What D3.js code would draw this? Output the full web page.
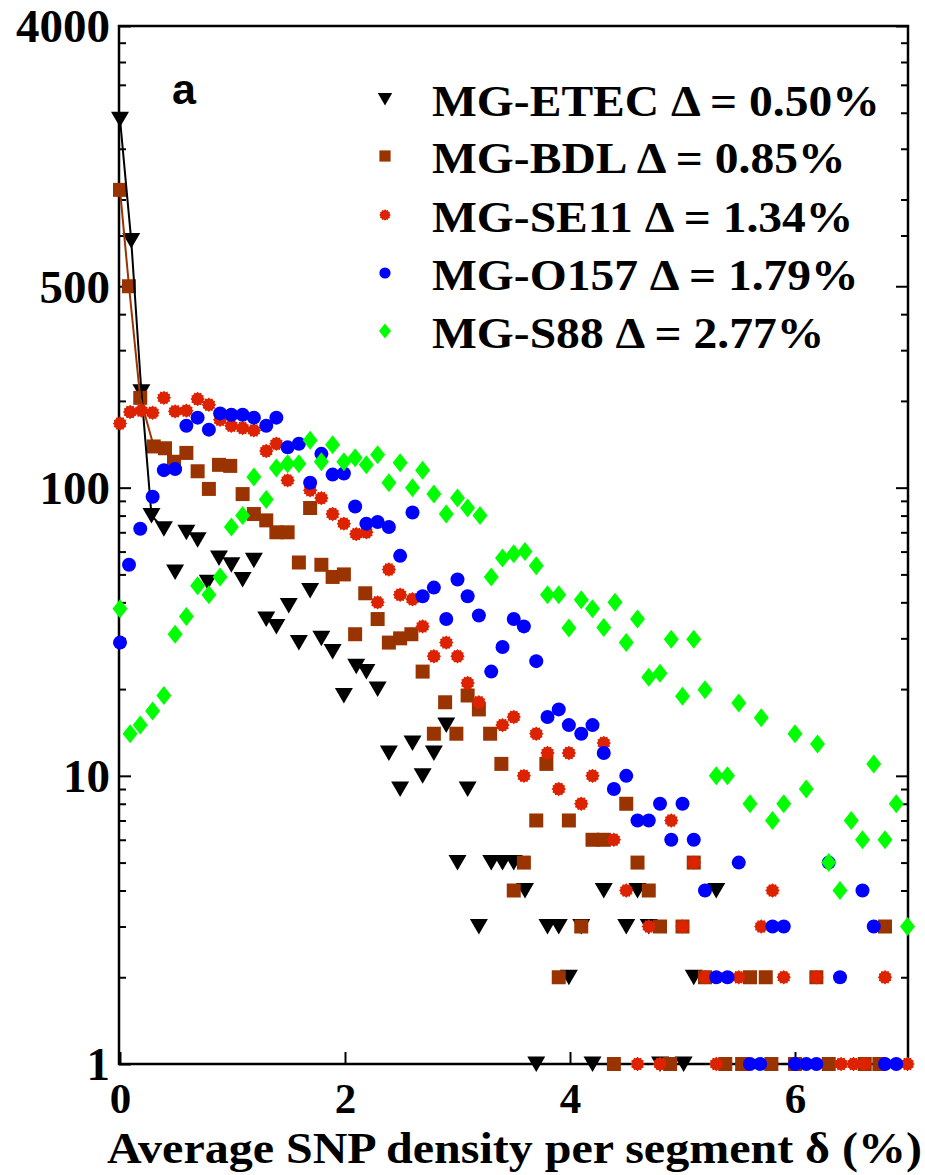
<!DOCTYPE html>
<html>
<head>
<meta charset="utf-8">
<script src="https://cdn.jsdelivr.net/npm/d3@7"></script>
<style>
  body { margin: 0; background: #fff; }
  svg { display: block; }
</style>
</head>
<body>
<svg id="chart" width="925" height="1175"></svg>
<script>
// Segment counts versus average SNP density per segment, one series per genome pair.
const etec = [[0,1900],[0.1,720],[0.19,215],[0.28,80],[0.39,72],[0.49,51],[0.59,70],[0.69,66],[0.78,47],[0.88,57],[0.99,54],[1.09,48],[1.19,56],[1.3,35],[1.39,33],[1.5,39],[1.59,29],[1.69,44],[1.79,30],[1.89,27],[1.99,19],[2.1,24],[2.19,23],[2.29,20],[2.39,12],[2.49,9],[2.6,13],[2.69,10],[2.79,12],[2.9,15],[3.0,5],[3.09,9],[3.19,3],[3.3,5],[3.4,5],[3.5,5],[3.6,4],[3.7,1],[3.8,3],[3.9,3],[3.99,2],[4.1,3],[4.2,1],[4.3,4],[4.5,3],[4.6,4],[4.7,3],[4.8,1],[5.01,1],[5.1,2],[5.3,4]];
const bdl = [[0,1080],[0.08,500],[0.18,205],[0.3,139],[0.4,137],[0.48,123],[0.59,132],[0.69,114],[0.79,99],[0.88,120],[0.98,119],[1.09,95],[1.19,81],[1.3,77],[1.39,70],[1.49,70],[1.59,55],[1.69,85],[1.79,54],[1.89,49],[1.99,50],[2.09,31],[2.18,43],[2.29,35],[2.39,29],[2.49,30],[2.59,31],[2.69,23],[2.79,14],[2.89,18],[2.99,14],[3.09,19],[3.19,17],[3.29,14],[3.39,11],[3.5,4],[3.59,5],[3.7,7],[3.79,11],[3.9,2],[3.99,7],[4.1,3],[4.2,6],[4.3,6],[4.39,1],[4.5,8],[4.6,5],[4.7,4],[4.8,3],[4.89,1],[5.0,3],[5.1,5],[5.2,2],[5.38,1],[5.53,1],[5.6,2],[5.74,2],[5.79,1],[6.0,1],[6.19,2],[6.3,1],[6.62,1],[6.75,1],[6.8,3]];
const se11 = [[0,167],[0.09,183],[0.19,185],[0.29,182],[0.39,205],[0.49,184],[0.59,185],[0.69,203],[0.79,194],[0.89,172],[0.99,164],[1.09,161],[1.19,158],[1.3,134],[1.39,142],[1.49,106],[1.69,98],[1.79,92],[1.89,81],[1.99,75],[2.1,69],[2.19,70],[2.29,40],[2.39,52],[2.49,42.5],[2.6,41],[2.69,33],[2.79,26],[2.9,29],[3.0,26],[3.09,21],[3.19,18],[3.4,15],[3.5,16],[3.59,10],[3.7,14],[3.8,12],[3.9,9],[3.99,12],[4.1,8],[4.2,10],[4.3,13],[4.39,6],[4.5,4],[4.6,1],[4.7,3],[4.8,1],[4.9,7],[5.0,3],[5.1,5],[5.2,2],[5.3,1],[5.5,2],[5.7,3],[5.8,4],[5.9,2],[6.19,2],[6.41,1],[6.52,1],[6.62,1],[6.8,2],[7.0,1]];
const o157 = [[0,29],[0.08,54],[0.18,72],[0.29,93],[0.39,115],[0.49,116],[0.59,164],[0.69,175],[0.79,159],[0.89,181],[0.99,179],[1.09,179],[1.19,175],[1.3,164],[1.39,175],[1.49,138],[1.59,142],[1.69,104],[1.79,131],[1.89,111],[1.99,112],[2.09,86],[2.19,75],[2.29,76],[2.39,73],[2.49,58],[2.6,82],[2.69,42],[2.79,45],[2.9,35],[3.0,48],[3.09,42],[3.19,36],[3.3,23],[3.4,28],[3.5,35],[3.59,33],[3.7,25],[3.8,16],[3.9,17],[3.99,15],[4.1,14],[4.2,15],[4.3,12],[4.39,9],[4.5,10],[4.6,7],[4.7,7],[4.8,8],[4.9,6],[5.0,8],[5.1,6],[5.2,4],[5.3,2],[5.4,2],[5.5,5],[5.6,1],[5.69,1],[5.8,3],[5.9,3],[6.0,1],[6.1,1],[6.19,1],[6.3,5],[6.4,2],[6.6,4],[6.7,3],[6.8,1],[6.9,1]];
const s88 = [[0,38],[0.09,14],[0.18,15],[0.29,16.8],[0.39,19],[0.49,31],[0.59,35.7],[0.69,45.7],[0.79,42.5],[0.89,49],[0.99,73],[1.09,80],[1.19,109],[1.3,91],[1.39,117],[1.49,121],[1.59,121],[1.69,146],[1.79,123],[1.89,141],[1.99,123],[2.09,127],[2.19,120],[2.29,130],[2.39,104],[2.49,122],[2.6,100],[2.69,115],[2.79,95],[2.9,81],[3.0,92],[3.09,85],[3.2,80],[3.3,49],[3.4,57],[3.5,59],[3.6,60],[3.7,53.6],[3.8,42.5],[3.9,42.5],[3.99,32.6],[4.1,40.8],[4.2,38],[4.3,32.7],[4.4,40],[4.5,29],[4.6,35],[4.7,22],[4.8,22.7],[4.9,29.8],[5.0,18.9],[5.1,29.8],[5.2,19.9],[5.3,10],[5.4,10],[5.5,17.9],[5.6,8],[5.7,15.9],[5.8,7],[5.9,8],[6.0,14],[6.1,9],[6.2,12.9],[6.3,5],[6.4,4],[6.5,7],[6.6,6],[6.7,11],[6.8,6],[6.9,8],[7.0,3]];

const seriesNames = ["MG-ETEC", "MG-BDL", "MG-SE11", "MG-O157", "MG-S88"];
const deltaLabels = ["0.50%", "0.85%", "1.34%", "1.79%", "2.77%"];
const xTickValues = [0, 2, 4, 6];
const yMajorTicks = [1, 10, 100, 500, 4000];
const yMinorTicks = [2,3,4,5,6,7,8,9,20,30,40,50,60,70,80,90,200,300,400,750,1000,1500,2000,2500,3000,3500];
const xTitle = "Average SNP density per segment \u03b4 (%)";
const panelLabel = "a";

const colors = ["#000000", "#993300", "#dd2200", "#0000ff", "#00ff00"];

// marker outlines, centred on the data point
function starPath(rOut, rIn, n) {
  const pts = [];
  for (let i = 0; i < 2 * n; i++) {
    const r = i % 2 === 0 ? rOut : rIn;
    const a = Math.PI * i / n;
    pts.push([r * Math.cos(a), r * Math.sin(a)]);
  }
  return "M" + pts.map(p => p[0].toFixed(2) + "," + p[1].toFixed(2)).join("L") + "Z";
}
const markerPaths = [
  "M-9,-7.5L9,-7.5L0,8Z",
  "M-7,-7L7,-7L7,7L-7,7Z",
  starPath(7.2, 5.9, 12),
  d3.symbol(d3.symbolCircle, Math.PI * 7 * 7)(),
  "M0,-9.5L7.5,0L0,9.5L-7.5,0Z"
];

const svg = d3.select("#chart");
const plotLeft = 119, plotRight = 908, plotTop = 26, plotBottom = 1064;

const x = d3.scaleLinear().domain([0, 7]).range([120, 907.5]);
const y = d3.scaleLog().domain([1, 4000]).range([plotBottom, plotTop]);

const serif = "'Liberation Serif', 'Times New Roman', serif";

// frame
svg.append("rect")
  .attr("x", plotLeft).attr("y", plotTop)
  .attr("width", plotRight - plotLeft).attr("height", plotBottom - plotTop)
  .attr("fill", "none").attr("stroke", "#000").attr("stroke-width", 2.5);

function styleAxis(g) {
  g.select(".domain").remove();
  g.selectAll(".tick line").attr("stroke", "#000").attr("stroke-width", 2);
  g.selectAll("text").attr("fill", "#000")
    .style("font-family", serif).style("font-weight", "bold");
}

// left axis: labelled major ticks plus inward minor ticks
svg.append("g").attr("transform", `translate(${plotLeft},0)`)
  .call(d3.axisLeft(y).tickValues(yMajorTicks).tickFormat(d3.format("d")).tickSize(-12).tickPadding(9))
  .call(styleAxis)
  .call(g => g.selectAll("text").style("font-size", "47px").attr("dy", "0.34em"));
svg.append("g").attr("transform", `translate(${plotLeft},0)`)
  .call(d3.axisLeft(y).tickValues(yMinorTicks).tickFormat("").tickSize(-7))
  .call(styleAxis);

// right axis: ticks only
svg.append("g").attr("transform", `translate(${plotRight},0)`)
  .call(d3.axisRight(y).tickValues(yMajorTicks).tickFormat("").tickSize(-12))
  .call(styleAxis);
svg.append("g").attr("transform", `translate(${plotRight},0)`)
  .call(d3.axisRight(y).tickValues(yMinorTicks).tickFormat("").tickSize(-7))
  .call(styleAxis);

// bottom axis
svg.append("g").attr("transform", `translate(0,${plotBottom})`)
  .call(d3.axisBottom(x).tickValues(xTickValues).tickFormat(d3.format("d")).tickSize(-12).tickPadding(18))
  .call(styleAxis)
  .call(g => g.selectAll("text").style("font-size", "43px"));

// axis title
svg.append("text")
  .attr("x", 107).attr("y", 1163)
  .attr("textLength", 815).attr("lengthAdjust", "spacingAndGlyphs")
  .style("font-family", serif).style("font-weight", "bold").style("font-size", "44px")
  .attr("fill", "#000")
  .text(xTitle);

// panel label
svg.append("text")
  .attr("x", 184).attr("y", 104).attr("text-anchor", "middle")
  .style("font-family", "'Liberation Sans', Arial, sans-serif").style("font-weight", "bold").style("font-size", "43px")
  .attr("fill", "#000")
  .text(panelLabel);

const allSeries = [etec, bdl, se11, o157, s88];
const plot = svg.append("g");

function drawMarkers(i) {
  plot.append("g").selectAll("path")
    .data(allSeries[i])
    .join("path")
    .attr("d", markerPaths[i])
    .attr("transform", d => `translate(${x(d[0])},${y(d[1])})`)
    .attr("fill", colors[i]);
}

drawMarkers(0);
drawMarkers(1);

// connecting lines over the steep initial decay
const line = d3.line().x(d => x(d[0])).y(d => y(d[1]));
plot.append("path").datum(etec.slice(0, 5))
  .attr("d", line).attr("fill", "none").attr("stroke", "#000").attr("stroke-width", 2);
plot.append("path").datum(bdl.slice(0, 5))
  .attr("d", line).attr("fill", "none").attr("stroke", colors[1]).attr("stroke-width", 2);

drawMarkers(2);
drawMarkers(3);
drawMarkers(4);

// legend
const legendRows = [99, 156, 215, 273, 331];
const legend = svg.append("g");
seriesNames.forEach((name, i) => {
  legend.append("path")
    .attr("d", markerPaths[i])
    .attr("transform", `translate(385,${legendRows[i]}) scale(0.8)`)
    .attr("fill", colors[i]);
  legend.append("text")
    .attr("class", "legend-text")
    .attr("x", 432).attr("y", legendRows[i] + 17)
    .style("font-family", serif).style("font-weight", "bold").style("font-size", "44px")
    .attr("fill", "#000")
    .text(`${name} \u0394 = ${deltaLabels[i]}`);
});
// widen legend text to the measured span of the first entry
const first = legend.select(".legend-text").node();
const sx = 448 / first.getComputedTextLength();
legend.selectAll(".legend-text")
  .attr("transform", function () { return `translate(${432 * (1 - sx)},0) scale(${sx},1)`; });
</script>
</body>
</html>
